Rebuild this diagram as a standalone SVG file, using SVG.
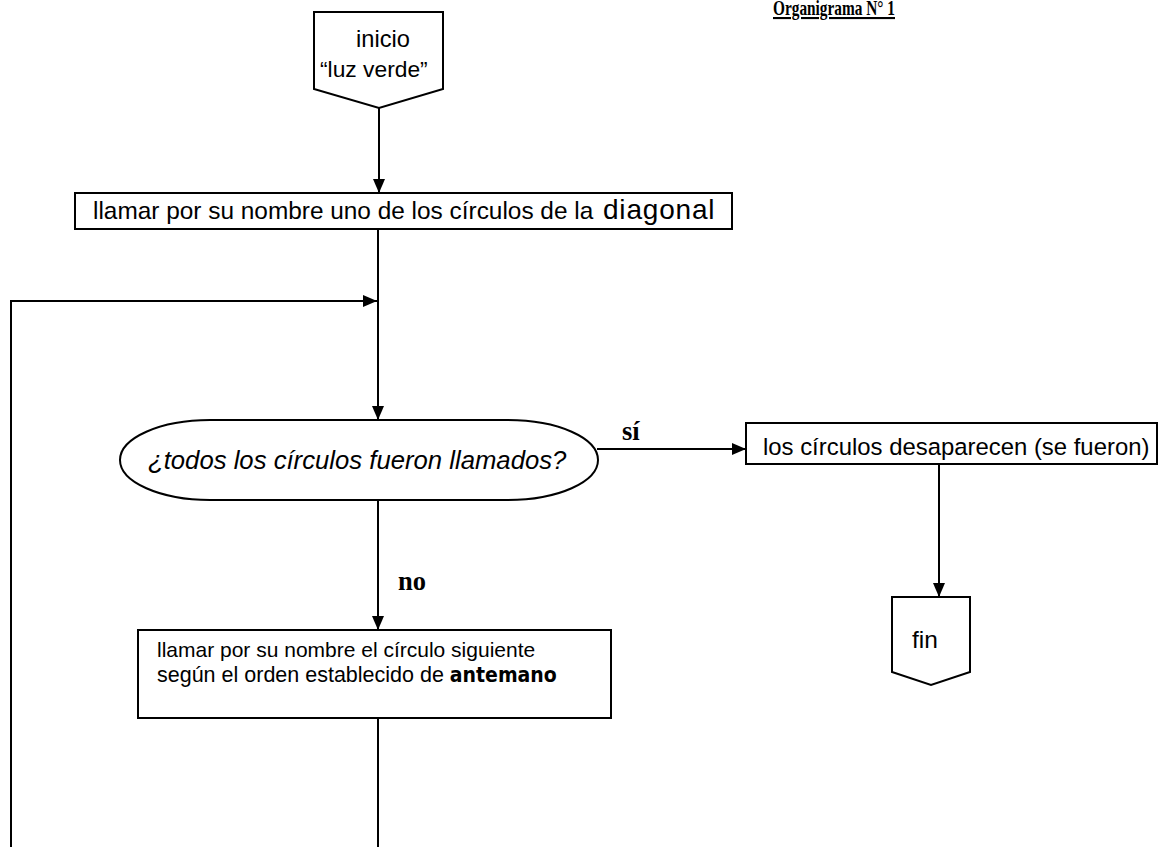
<svg xmlns="http://www.w3.org/2000/svg" width="1170" height="847" viewBox="0 0 1170 847">
<style>
.shape{fill:#fff;stroke:#000;stroke-width:2}
.conn{fill:none;stroke:#000;stroke-width:2}
.t{font-family:"Liberation Sans",Arial,sans-serif;fill:#000}
.lbl{font-family:"Liberation Serif","Times New Roman",serif;font-weight:bold;fill:#000}
</style>
<defs>
<marker id="ah" markerUnits="userSpaceOnUse" markerWidth="16" markerHeight="14" refX="14" refY="6" orient="auto">
<path d="M0,0 L14,6 L0,12 Z" fill="#000"/>
</marker>
</defs>
<rect width="1170" height="847" fill="#fff"/>
<text x="895" y="15" text-anchor="end" class="lbl" font-size="21" text-decoration="underline" textLength="122" lengthAdjust="spacingAndGlyphs">Organigrama N° 1</text>
<g id="connectors">
<path class="conn" d="M379,108 V193" marker-end="url(#ah)"/>
<path class="conn" d="M378,229 V420" marker-end="url(#ah)"/>
<path class="conn" d="M11,847 V301 H377" marker-end="url(#ah)"/>
<path class="conn" d="M378,718 V847"/>
<path class="conn" d="M597,449 H746" marker-end="url(#ah)"/>
<path class="conn" d="M378,500 V630" marker-end="url(#ah)"/>
<path class="conn" d="M939,464 V597" marker-end="url(#ah)"/>
<text class="lbl" x="622" y="440" font-size="26.5">sí</text>
<text class="lbl" x="398" y="590" font-size="26.5">no</text>
</g>
<g id="inicio">
<path class="shape" d="M314,12 H443 V89 L379,108 L314,89 Z"/>
<text class="t" x="356" y="47" font-size="23.7">inicio</text>
<text class="t" x="320" y="77" font-size="22.8">“luz verde”</text>
</g>
<g id="llamar-diagonal">
<rect class="shape" x="75" y="193" width="657" height="36"/>
<text class="t" x="93" y="219" font-size="24.4">llamar por su nombre uno de los círculos de la</text>
<text class="t" x="603" y="219" font-size="28" letter-spacing="0.8">diagonal</text>
</g>
<g id="decision">
<path class="shape" d="M210,420 H508 A90,40 0 0 1 508,500 H210 A90,40 0 0 1 210,420 Z"/>
<text class="t" x="148" y="469" font-style="italic" font-size="25.7">¿todos los círculos fueron llamados?</text>
</g>
<g id="desaparecen">
<rect class="shape" x="746" y="423" width="411" height="41"/>
<text class="t" x="763" y="455" font-size="23.9">los círculos desaparecen (se fueron)</text>
</g>
<g id="fin">
<path class="shape" d="M892,597 H970 V672 L931,685 L892,672 Z"/>
<text class="t" x="912" y="648" font-size="24.5">fin</text>
</g>
<g id="siguiente">
<rect class="shape" x="138" y="630" width="473" height="88"/>
<text class="t" x="157" y="657" font-size="21">llamar por su nombre el círculo siguiente</text>
<text class="t" x="157" y="682" font-size="21.5">según el orden establecido de <tspan font-family="'Liberation Sans Narrow','DejaVu Sans Condensed',sans-serif" font-weight="bold" font-size="21">antemano</tspan></text>
</g>
</svg>
